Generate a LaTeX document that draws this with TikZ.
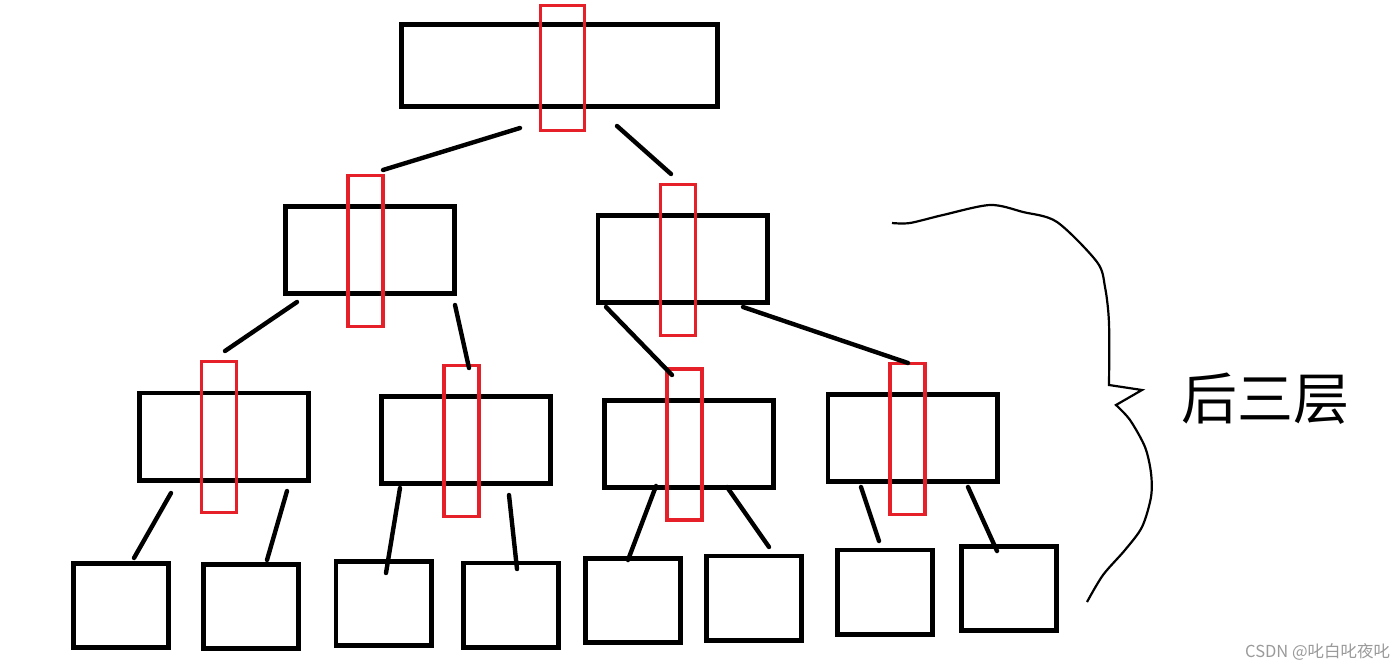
\documentclass[tikz,border=0pt]{standalone}
\usepackage{fontspec}
\usepackage{xcolor}
\usepackage{tikz}
\usetikzlibrary{calc,positioning}
\newfontfamily\cjk{Noto Sans CJK SC}
\definecolor{ink}{HTML}{000000}
\definecolor{mark}{HTML}{E52028}
\definecolor{wmgray}{HTML}{9A9A9A}
\newcommand{\LayerFont}{\fontsize{56}{60}\selectfont}
\newcommand{\WmFont}{\fontsize{16.5}{19}\selectfont}

\begin{document}
\begin{tikzpicture}[x=1pt,y=-1pt, font=\cjk,
    box/.style={draw=ink,line width=4.6pt,inner sep=0pt,minimum width=169.4pt,minimum height=87.4pt},
    leaf/.style={box,minimum width=95.4pt,minimum height=84.4pt},
    win/.style={draw=mark,line width=3.2pt,inner sep=0pt,minimum width=35pt,minimum height=151pt},
    edge/.style={ink,line width=4.4pt,line cap=round}]
  \useasboundingbox (0,0) rectangle (1400,670);
  % tree boxes
  \node[box,minimum width=316.4pt,minimum height=82.4pt] (top) at (559.5,65.5){};
  \foreach \nm/\x/\y in {m1/370/250, m2/682.5/259, a/224/436.5, b/466/440, c/689/444, d/912.5/438}{
    \node[box] (\nm) at (\x,\y){};}
  \foreach \nm/\x/\y in {l1/121/605.5, l2/251/606.5, l3/383.5/603.5, l4/511/605,
      l5/633/600.5, l6/754/598, l7/885/592, l8/1009/588.5}{
    \node[leaf] (\nm) at (\x,\y){};}
  % red windows
  \node[win,minimum width=44pt,minimum height=125pt] (w0) at (562.5,68){};
  \foreach \nm/\x/\y in {w1/365.5/251, w2/678/260, wa/219/437, wb/461.5/441, wc/684.5/444.5, wd/907.5/439}{
    \node[win] (\nm) at (\x,\y){};}
  % connectors
  \foreach \s/\p/\t/\q in {top/{-39.5,62.5}/m1/{13,-80}, top/{57.5,60.5}/m2/{-11.5,-85},
      m1/{-73,52}/a/{1,-85.5}, m1/{85,55}/b/{3,-72},
      m2/{-76.5,48}/c/{-17,-69}, m2/{60.5,48}/d/{-4.5,-75},
      a/{-53,56.5}/l1/{13,-47.5}, a/{63,54.5}/l2/{16,-46.5},
      b/{-66,48}/l3/{2.5,-30.5}, b/{43,55}/l4/{6,-36},
      c/{-33,42}/l5/{-5,-40.5}, c/{38,43}/l6/{15,-51},
      d/{-51.5,49}/l7/{-6,-51}, d/{55.5,49}/l8/{-12,-37.5}}{
    \draw[edge] ($(\s)+(\p)$) -- ($(\t)+(\q)$);}
  % brace
  \draw[ink,line width=2.2pt,line join=miter]
    plot[smooth] coordinates {(892,223) (910,223) (943,215) (990,205) (1023,212) (1057,222)
      (1097,262) (1105,287) (1109,323) (1109,385)}
    -- (1142,390) --
    plot[smooth] coordinates {(1116,405) (1130,420) (1145,447) (1151,473) (1151,497)
      (1142,527) (1125,550) (1103,575) (1087,602)};
  \node[font=\cjk\LayerFont,text=ink,inner sep=0pt] (layers) at (1265,399){后三层};
  \node[font=\cjk\WmFont,text=wmgray,anchor=west,inner sep=0pt] (wm) at (1245,652){CSDN @叱白叱夜叱};
\end{tikzpicture}
\end{document}
